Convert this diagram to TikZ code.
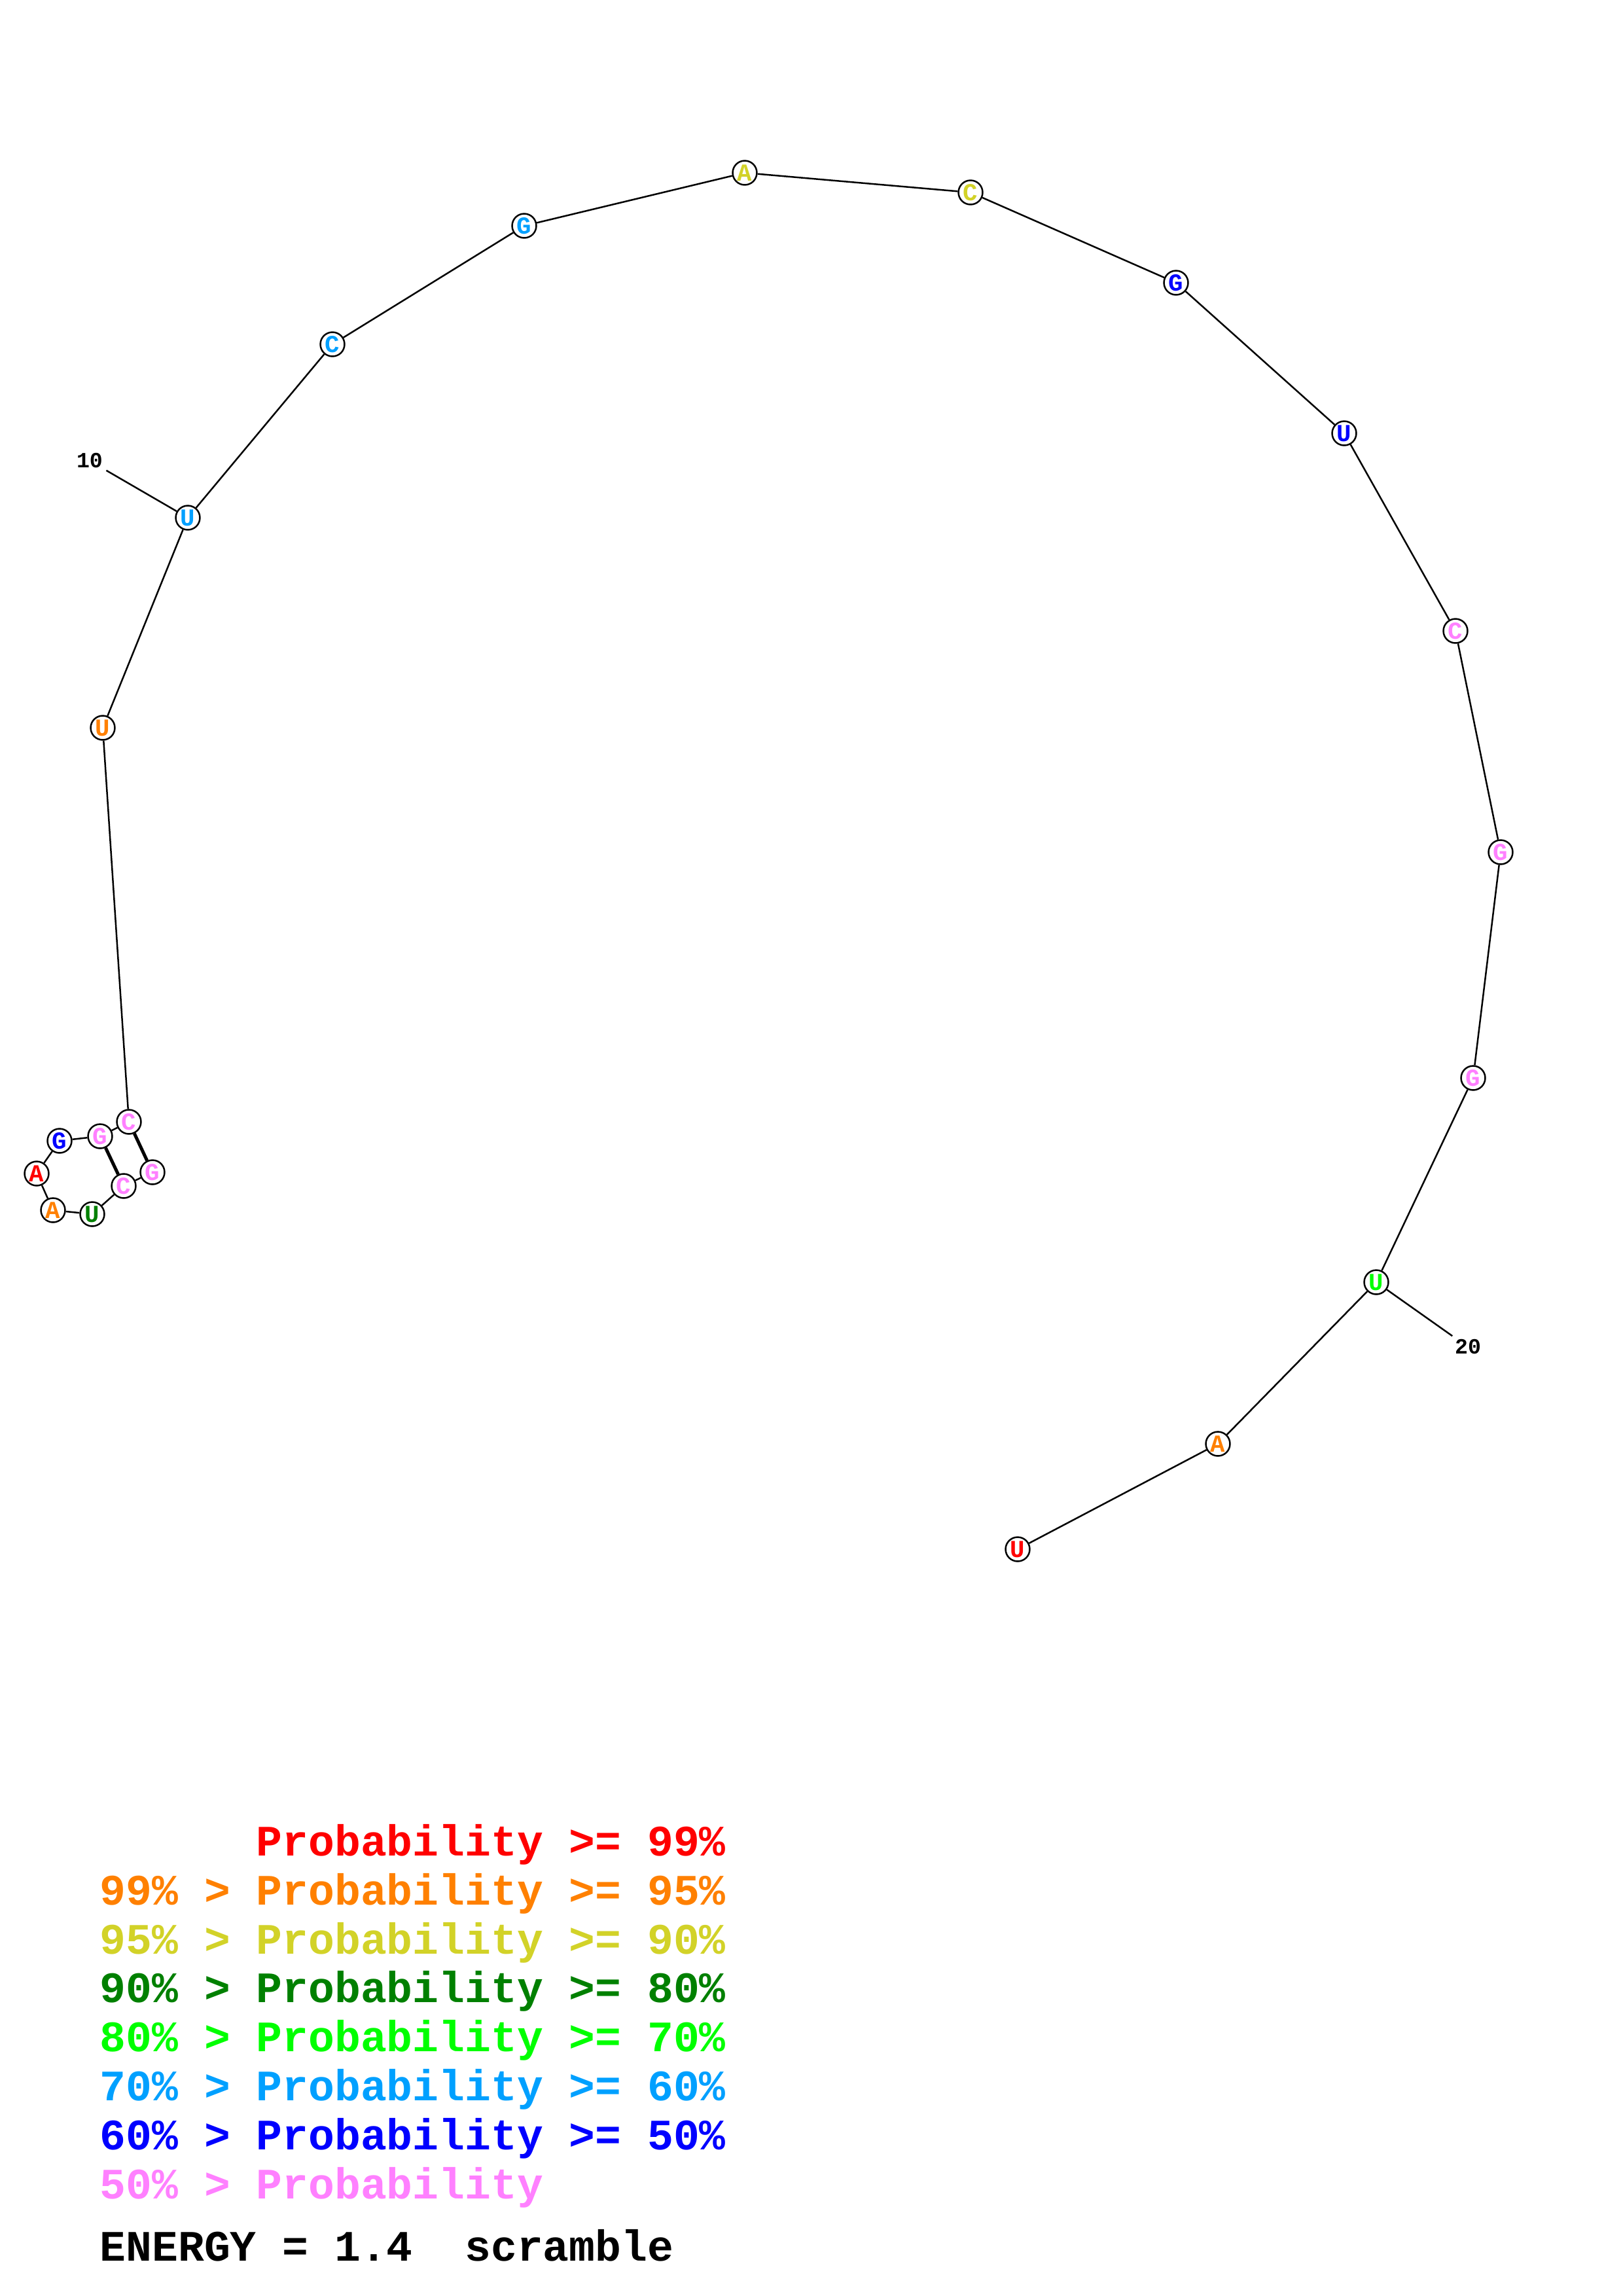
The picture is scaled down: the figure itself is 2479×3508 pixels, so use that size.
\documentclass[tikz,border=0pt]{standalone}
\usepackage{fontspec}
\newfontfamily\courfont{Liberation Mono}
\usetikzlibrary{positioning}
\definecolor{pRed}{RGB}{255,0,0}
\definecolor{pOrange}{RGB}{255,128,0}
\definecolor{pYellow}{RGB}{210,210,40}
\definecolor{pDkGreen}{RGB}{0,128,0}
\definecolor{pGreen}{RGB}{0,255,0}
\definecolor{pSky}{RGB}{0,160,255}
\definecolor{pBlue}{RGB}{0,0,255}
\definecolor{pPink}{RGB}{255,128,255}
\tikzset{
  nt/.style={circle, draw, line width=0.6pt, fill=white, minimum size=3.13mm, inner sep=0pt,
    font=\courfont\bfseries\fontsize{9}{9}\selectfont},
  bbone/.style={line width=0.6pt},
  bpair/.style={line width=1.2pt},
  numlab/.style={inner sep=0.4mm, font=\courfont\bfseries\fontsize{8}{8}\selectfont},
  legend/.style={anchor=base west, inner sep=0pt, font=\courfont\bfseries\fontsize{16}{16}\selectfont},
}

\begin{document}
\begin{tikzpicture}[x=0.08471mm, y=-0.08471mm]
  \useasboundingbox (0,0) rectangle (2479,3508);

  %% hairpin (bottom left)
  \node[nt, text=pPink]    (n1) at (233,1791) {G};
  \node[nt, text=pPink]    (n2) at (189,1812) {C};
  \node[nt, text=pDkGreen] (n3) at (141,1855) {U};
  \node[nt, text=pOrange]  (n4) at (81,1849) {A};
  \node[nt, text=pRed]     (n5) at (56,1793) {A};
  \node[nt, text=pBlue]    (n6) at (91,1743) {G};
  \node[nt, text=pPink]    (n7) at (153,1736) {G};
  \node[nt, text=pPink]    (n8) at (197,1714) {C};

  %% single strand
  \node[nt, text=pOrange]  (n9)  at (157,1112) {U};
  \node[nt, text=pSky]     (n10) at (287,791) {U};
  \node[nt, text=pSky]     (n11) at (508,526) {C};
  \node[nt, text=pSky]     (n12) at (801,345) {G};
  \node[nt, text=pYellow]  (n13) at (1138,264) {A};
  \node[nt, text=pYellow]  (n14) at (1483,294) {C};
  \node[nt, text=pBlue]    (n15) at (1797,432) {G};
  \node[nt, text=pBlue]    (n16) at (2054,662) {U};
  \node[nt, text=pPink]    (n17) at (2224,964) {C};
  \node[nt, text=pPink]    (n18) at (2293,1302) {G};
  \node[nt, text=pPink]    (n19) at (2251,1647) {G};
  \node[nt, text=pGreen]   (n20) at (2103,1959) {U};
  \node[nt, text=pOrange]  (n21) at (1861,2206) {A};
  \node[nt, text=pRed]     (n22) at (1555,2367) {U};

  % backbone
  \draw[bbone] (n1) -- (n2) -- (n3) -- (n4) -- (n5) -- (n6) -- (n7) -- (n8) -- (n9) -- (n10)
    -- (n11) -- (n12) -- (n13) -- (n14) -- (n15) -- (n16) -- (n17) -- (n18) -- (n19) -- (n20)
    -- (n21) -- (n22);

  % base pairs
  \draw[bpair] (n8) -- (n1);
  \draw[bpair] (n7) -- (n2);

  % numbering
  \node[numlab] (lab10) at (137,704) {10};
  \node[numlab] (lab20) at (2243,2058) {20};
  \draw[bbone] (n10) -- (lab10);
  \draw[bbone] (n20) -- (lab20);

  %% legend
  \node[legend, text=pRed]     (lg1) at (152,2835) {\hphantom{99\% > }Probability >= 99\%};
  \node[legend, text=pOrange]  (lg2) at (152,2910) {99\% > Probability >= 95\%};
  \node[legend, text=pYellow]  (lg3) at (152,2985) {95\% > Probability >= 90\%};
  \node[legend, text=pDkGreen] (lg4) at (152,3059) {90\% > Probability >= 80\%};
  \node[legend, text=pGreen]   (lg5) at (152,3134) {80\% > Probability >= 70\%};
  \node[legend, text=pSky]     (lg6) at (152,3209) {70\% > Probability >= 60\%};
  \node[legend, text=pBlue]    (lg7) at (152,3284) {60\% > Probability >= 50\%};
  \node[legend, text=pPink]    (lg8) at (152,3359) {50\% > Probability};
  \node[legend]                (nrg) at (152,3454) {ENERGY = 1.4\ \ scramble};
\end{tikzpicture}
\end{document}
